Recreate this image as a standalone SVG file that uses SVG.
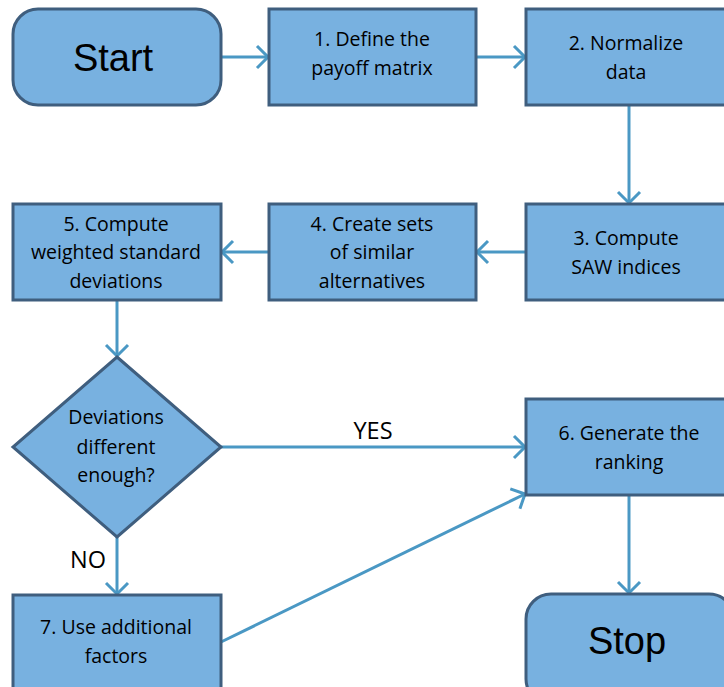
<svg xmlns="http://www.w3.org/2000/svg" width="724" height="687" viewBox="0 0 724 687">
<style>
.n{fill:#78B1E0;stroke:#3F5E7E;stroke-width:3}
.t{font-family:"Open Sans","Noto Sans",sans-serif;font-size:19.5px;fill:#000;text-anchor:middle}
.big{font-family:"Liberation Sans",Arial,sans-serif;font-size:38px;fill:#000;text-anchor:middle}
.c{fill:none;stroke:#4A98C4;stroke-width:3}
.lbl{font-family:"Open Sans","Noto Sans",sans-serif;font-size:23.5px;fill:#000;text-anchor:middle}
</style>
<defs>
<marker id="a" markerUnits="userSpaceOnUse" markerWidth="20" markerHeight="30" refX="12" refY="12" orient="auto" overflow="visible">
<path d="M1,1 L12,12 L1,23" fill="none" stroke="#4A98C4" stroke-width="3"/>
</marker>
</defs>
<rect width="724" height="687" fill="#fff"/>
<g id="connectors">
<line class="c" x1="221" y1="57" x2="268" y2="57" marker-end="url(#a)"/>
<line class="c" x1="476" y1="57" x2="525" y2="57" marker-end="url(#a)"/>
<line class="c" x1="629" y1="105" x2="629" y2="203" marker-end="url(#a)"/>
<line class="c" x1="526" y1="252" x2="477" y2="252" marker-end="url(#a)"/>
<line class="c" x1="269" y1="252" x2="222" y2="252" marker-end="url(#a)"/>
<line class="c" x1="117" y1="300" x2="117" y2="356" marker-end="url(#a)"/>
<line class="c" x1="221" y1="447" x2="525" y2="447" marker-end="url(#a)"/>
<line class="c" x1="117" y1="537" x2="117" y2="594" marker-end="url(#a)"/>
<line class="c" x1="221" y1="642" x2="525" y2="494" marker-end="url(#a)"/>
<line class="c" x1="629" y1="495" x2="629" y2="593" marker-end="url(#a)"/>
<text class="lbl" x="373" y="439">YES</text>
<text class="lbl" x="88" y="568">NO</text>
</g>
<g id="start">
<rect class="n" x="13" y="9" width="208" height="96" rx="25"/>
<text class="big" x="113" y="71">Start</text>
</g>
<g id="step1">
<rect class="n" x="269" y="9" width="207" height="96"/>
<text class="t" x="372" y="46">1. Define the</text>
<text class="t" x="372" y="75">payoff matrix</text>
</g>
<g id="step2">
<rect class="n" x="526" y="9" width="207" height="96"/>
<text class="t" x="626" y="50">2. Normalize</text>
<text class="t" x="626" y="79">data</text>
</g>
<g id="step3">
<rect class="n" x="526" y="204" width="207" height="96"/>
<text class="t" x="626" y="245">3. Compute</text>
<text class="t" x="626" y="274">SAW indices</text>
</g>
<g id="step4">
<rect class="n" x="269" y="204" width="207" height="96"/>
<text class="t" x="372" y="231">4. Create sets</text>
<text class="t" x="372" y="259">of similar</text>
<text class="t" x="372" y="288">alternatives</text>
</g>
<g id="step5">
<rect class="n" x="13" y="204" width="208" height="96"/>
<text class="t" x="116" y="231">5. Compute</text>
<text class="t" x="116" y="259">weighted standard</text>
<text class="t" x="116" y="288">deviations</text>
</g>
<g id="decision">
<polygon class="n" points="117,357 221,447 117,537 13,447"/>
<text class="t" x="116" y="424">Deviations</text>
<text class="t" x="116" y="454">different</text>
<text class="t" x="116" y="482">enough?</text>
</g>
<g id="step6">
<rect class="n" x="526" y="399" width="207" height="96"/>
<text class="t" x="629" y="440">6. Generate the</text>
<text class="t" x="629" y="469">ranking</text>
</g>
<g id="step7">
<rect class="n" x="13" y="595" width="208" height="100"/>
<text class="t" x="116" y="634">7. Use additional</text>
<text class="t" x="116" y="663">factors</text>
</g>
<g id="stop">
<rect class="n" x="526" y="594" width="208" height="110" rx="25"/>
<text class="big" x="627" y="654">Stop</text>
</g>
</svg>
